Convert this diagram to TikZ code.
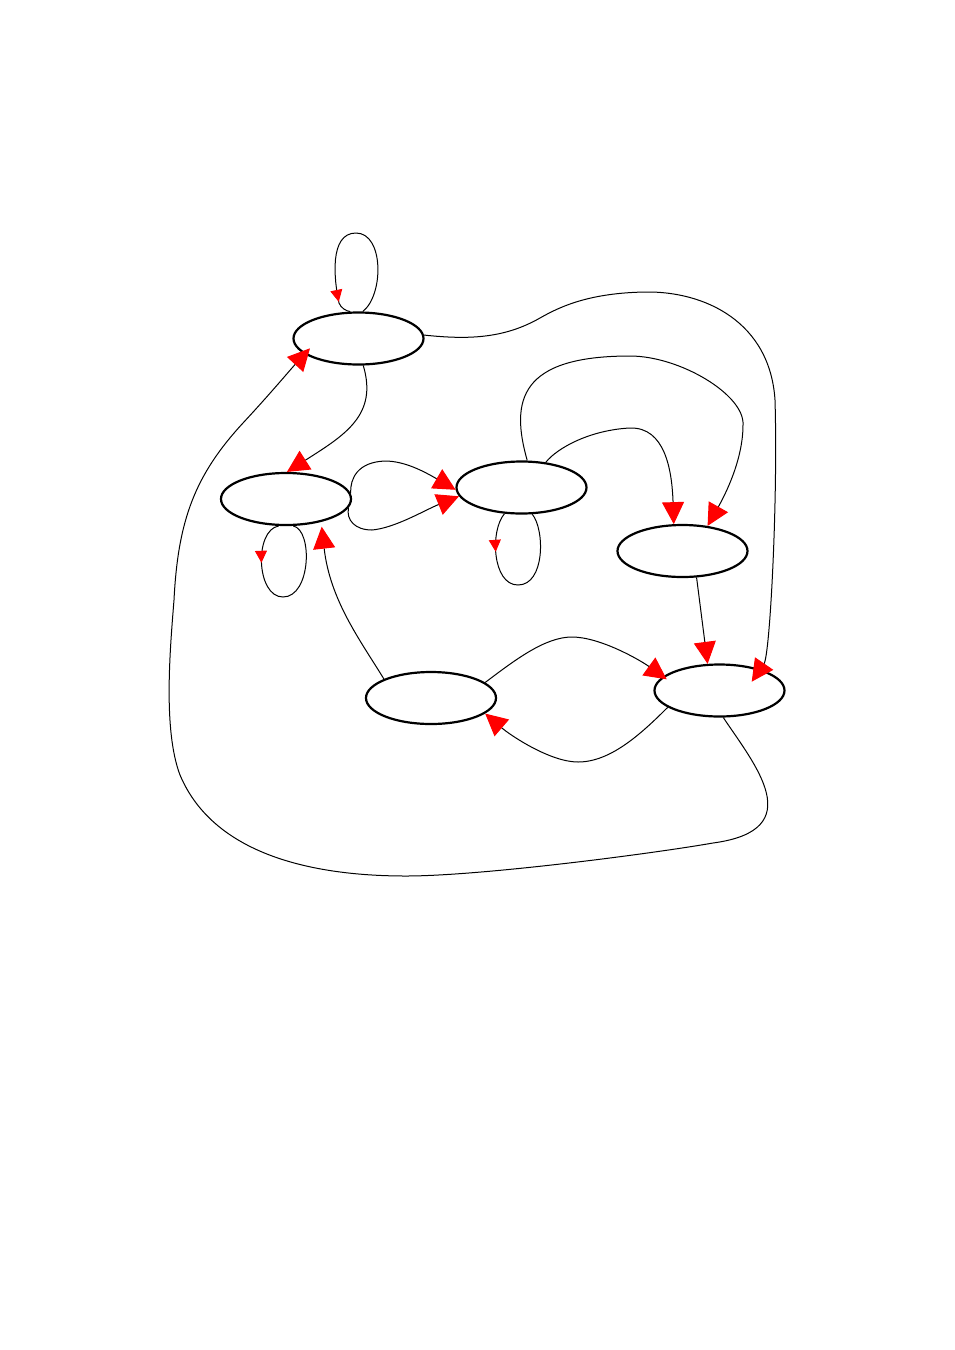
\documentclass[tikz,border=0pt]{standalone}
\usepackage{tikz}
\usetikzlibrary{arrows.meta,shapes.geometric,decorations.markings,calc}
\definecolor{tipred}{RGB}{255, 0, 0}
\definecolor{inkblack}{RGB}{0, 0, 0}

\begin{document}
\begin{tikzpicture}[x=0.5pt, y=-0.5pt,
            state/.style={ellipse, draw=inkblack, line width=1.1pt, minimum width=65pt, minimum height=26pt, inner sep=0pt},
            edge/.style={draw=inkblack, line width=0.5pt, -{Triangle[length=11pt, width=11pt, color=tipred]}},
            loopedge/.style={draw=inkblack, line width=0.5pt, postaction={decorate},
                decoration={markings, mark=at position #1 with {\arrow{Triangle[length=6pt, width=6pt, color=tipred]}}}}]
            \useasboundingbox (0,0) rectangle (954,1350);
            \node[state] (A) at (358.5,338.5) {};
            \node[state] (B) at (286.0,499.0) {};
            \node[state] (C) at (521.5,487.5) {};
            \node[state] (D) at (682.5,551.0) {};
            \node[state] (E) at (719.5,690.5) {};
            \node[state] (F) at (431.0,698.0) {};
            \draw[loopedge=-8pt]   (A.81)  .. controls (384,295) and (384,233) .. (356,233)
                                           .. controls (329,233) and (334,280) .. (339,303)
                                           .. controls (341,308) and (346,311) .. (A.107);
            \draw[loopedge=22pt]   (B.255) .. controls (254,530) and (256,597) .. (283,597)
                                           .. controls (311,597) and (313,530) .. (B.285);
            \draw[loopedge=20pt]   (C.237) .. controls (490,530) and (492,585) .. (518,585)
                                           .. controls (545,585) and (545,530) .. (C.292);
            \draw[edge] (A.280) .. controls (378,415) and (345,435) .. (B.88);
            \draw[edge] (B.5)   .. controls (350,478) and (358,462) .. (385,461)
                                .. controls (405,461) and (425,472) .. (C.182);
            \draw[edge] (B.-8)  .. controls (346,520) and (355,530) .. (372,530)
                                .. controls (395,528) and (425,510) .. (C.188);
            \draw[edge] (C.46)  .. controls (557,448) and (590,430) .. (630,428)
                                .. controls (665,427) and (672,470) .. (D.108);
            \draw[edge] (C.78)  .. controls (510,400) and (520,356) .. (630,356)
                                .. controls (680,356) and (745,395) .. (743,425)
                                .. controls (743,460) and (725,495) .. (D.45);
            \draw[edge] (D.-62) -- (E.114);
            \draw[edge] (A.3)   .. controls (470,340) and (505,338) .. (540,318)
                                .. controls (561,306) and (590,293) .. (645,292)
                                .. controls (705,291) and (770,322) .. (775,400)
                                .. controls (778,500) and (770,655) .. ($(E)+(32.2,-8.8)$);
            \draw[edge] (F.16)  .. controls (515,660) and (545,637) .. (572,637)
                                .. controls (600,637) and (640,660) .. ($(E)+(-52.8,-11.2)$);
            \draw[edge] (E.198) .. controls (640,735) and (610,762) .. (578,762)
                                .. controls (550,762) and (510,735) .. (F.-16);
            \draw[edge] (F.158) .. controls (360,640) and (330,600) .. ($(B)+(35.7,27.7)$);
            \draw[edge] (E.-82) .. controls (755,765) and (810,830) .. (713,843)
                                .. controls (650,854) and (480,876) .. (406,876)
                                .. controls (320,876) and (215,858) .. (180,775)
                                .. controls (163,730) and (170,650) .. (174,600)
                                .. controls (178,520) and (195,475) .. (243,423)
                                .. controls (270,394) and (290,370) .. ($(A)+(-48.5,9.8)$);
\end{tikzpicture}
\end{document}
